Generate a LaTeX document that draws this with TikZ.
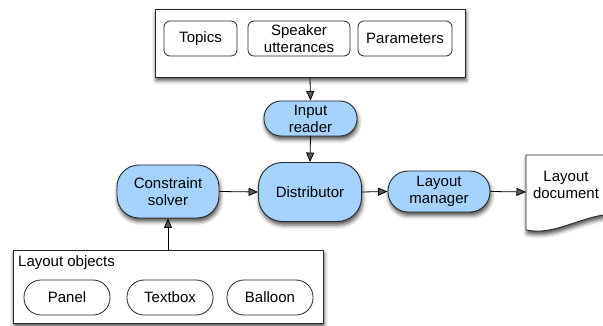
\documentclass[tikz,border=0pt]{standalone}
\usepackage{fontspec}
\setmainfont{Liberation Sans}
\usetikzlibrary{arrows.meta,shadows.blur}
\definecolor{procblue}{RGB}{166,210,255}
\definecolor{edgegray}{RGB}{40,40,40}
\tikzset{
  shade/.style={blur shadow={shadow xshift=1pt, shadow yshift=-3.5pt, shadow blur radius=4pt, shadow opacity=70}},
  group/.style={draw=edgegray, line width=0.9pt, fill=white, shade},
  item/.style={draw=edgegray, line width=0.8pt, fill=white, rounded corners=6pt, align=center, inner sep=0pt, minimum height=35pt},
  pill/.style={draw=edgegray, line width=0.8pt, fill=white, rounded corners=17pt, inner sep=0pt, minimum height=35pt, minimum width=86pt},
  proc/.style={draw=edgegray, line width=0.9pt, fill=procblue, align=center, inner sep=0pt, shade},
  conn/.style={line width=0.8pt, -{Triangle[length=9.5pt,width=8pt]}},
  every node/.style={font=\fontsize{15}{17}\selectfont}
}
\begin{document}
\begin{tikzpicture}[x=1pt,y=-1pt]
\useasboundingbox (0,0) rectangle (603,326);

% input sources
\node[group, minimum width=310pt, minimum height=68pt] (src) at (310,43) {};
\node[item, minimum width=73pt] (topics) at (200.5,38.5) {Topics};
\node[item, minimum width=102pt] (utter) at (299,38.5) {Speaker\\utterances};
\node[item, minimum width=94pt] (params) at (405,38.5) {Parameters};

% processing stages
\node[proc, rounded corners=17pt, minimum width=93pt, minimum height=35pt] (reader) at (310.5,118.5) {Input\\reader};
\node[proc, rounded corners=24pt, minimum width=103pt, minimum height=59pt] (dist) at (310,192) {Distributor};
\node[proc, rounded corners=22pt, minimum width=102pt, minimum height=53pt] (solver) at (168,191.5) {Constraint\\solver};
\node[proc, rounded corners=20pt, minimum width=102pt, minimum height=41pt] (manager) at (439,191.5) {Layout\\manager};

% output document
\node[minimum width=84pt, minimum height=76pt, inner sep=0pt, anchor=west] (doc) at (526,192) {};
\path[draw=edgegray, line width=0.9pt, fill=white, shade]
  (526,155) -- (612,155) -- (612,214)
  .. controls (580,216) and (555,236) .. (526,230) -- cycle;
\node[align=center] (doctext) at (566,185) {Layout\\document};

% layout objects
\node[group, minimum width=310pt, minimum height=73pt] (objs) at (168,286.5) {};
\node[anchor=base west, inner sep=0pt] (objlabel) at (18,266) {Layout objects};
\node[pill] (panel) at (67,297.5) {Panel};
\node[pill] (textbox) at (170,297.5) {Textbox};
\node[pill] (balloon) at (270,297.5) {Balloon};

% connectors
\draw[conn] (src.south) -- (reader.north);
\draw[conn] (reader.south) -- (dist.north);
\draw[conn] (solver.east) -- (dist.west);
\draw[conn] (dist.east) -- (manager.west);
\draw[conn] (manager.east) -- (doc.west);
\draw[conn] (objs.north) -- (solver.south);
\end{tikzpicture}
\end{document}
